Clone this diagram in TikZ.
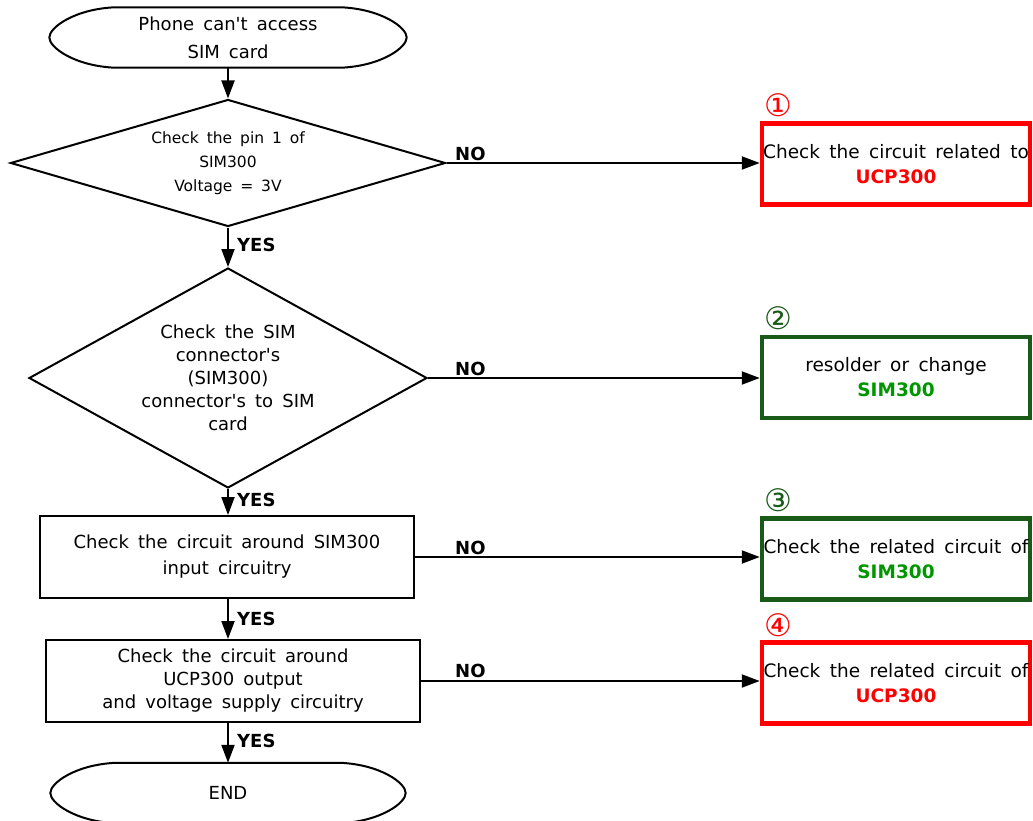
\documentclass[tikz,border=0pt]{standalone}
\usepackage{fontspec}
\newfontfamily\vf{DejaVu Sans}[WordSpace=1.6]
\usetikzlibrary{shapes.geometric,arrows.meta,calc}
\definecolor{redc}{RGB}{255,0,0}
\definecolor{gborder}{RGB}{25,90,25}
\definecolor{gtext}{RGB}{0,150,0}
\newcommand{\termoutline}[1]{%
  \draw[line width=2pt]
    ($(#1.north west)+(65,0)$) -- ($(#1.north east)+(-65,0)$)
    .. controls ($(#1.north east)+(-25,2)$) and ($(#1.east)+(0,-10)$) .. (#1.east)
    .. controls ($(#1.east)+(0,10)$) and ($(#1.south east)+(-25,-2)$) .. ($(#1.south east)+(-65,0)$)
    -- ($(#1.south west)+(65,0)$)
    .. controls ($(#1.south west)+(25,-2)$) and ($(#1.west)+(0,10)$) .. (#1.west)
    .. controls ($(#1.west)+(0,-10)$) and ($(#1.north west)+(25,2)$) .. cycle;}
\begin{document}
\begin{tikzpicture}[x=1pt,y=-1pt,
  every node/.style={inner sep=0pt,execute at begin node=\vf},
  arr/.style={line width=2pt,-{Triangle[length=18pt,width=13pt]}},
  term/.style={minimum width=357pt,minimum height=60pt,align=center,font=\fontsize{18}{28}\selectfont},
  dia/.style={draw,line width=2pt,diamond,align=center},
  proc/.style={draw,line width=2pt,rectangle,align=center,minimum width=374pt,minimum height=82pt},
  res/.style={draw,line width=4.5pt,rectangle,align=center,minimum width=268pt,minimum height=81pt,font=\fontsize{18.5}{25}\selectfont},
  lbl/.style={anchor=west,font=\fontsize{18}{18}\selectfont\bfseries},
  num/.style={font=\fontsize{31}{31}\selectfont},
]
\useasboundingbox (0,0) rectangle (1033,821);
\fill[white] (0,0) rectangle (1033,821);

% left column
\node[term] (start) at (228,37.5) {Phone can't access\\SIM card};
\termoutline{start}
\node[dia,shape aspect=3.43,minimum width=435pt,minimum height=127pt,font=\fontsize{15.5}{24}\selectfont] (d1) at (228,163) {Check the pin 1 of\\SIM300\\Voltage = 3V};
\node[dia,shape aspect=1.81,minimum width=398pt,minimum height=220pt,font=\fontsize{18}{23}\selectfont] (d2) at (228,378) {Check the SIM\\connector's\\(SIM300)\\connector's to SIM\\card};
\node[proc,font=\fontsize{18}{26}\selectfont] (b1) at (227,557) {Check the circuit around SIM300\\input circuitry};
\node[proc,font=\fontsize{18}{23}\selectfont] (b2) at (233,681) {Check the circuit around\\UCP300 output\\and voltage supply circuitry};
\node[term,minimum width=355pt] (end) at (228,793) {END};
\termoutline{end}

% right column
\node[res,draw=redc] (rA) at (896,164) {Check the circuit related to\\\textcolor{redc}{\bfseries UCP300}};
\node[res,draw=gborder] (rB) at (896,377.5) {resolder or change\\\textcolor{gtext}{\bfseries SIM300}};
\node[res,draw=gborder] (rC) at (896,559) {Check the related circuit of\\\textcolor{gtext}{\bfseries SIM300}};
\node[res,draw=redc] (rD) at (896,683) {Check the related circuit of\\\textcolor{redc}{\bfseries UCP300}};

\node[num,text=redc] (n1) at (778,105) {①};
\node[num,text=gborder] (n2) at (778,318) {②};
\node[num,text=gborder] (n3) at (778,500) {③};
\node[num,text=redc] (n4) at (778,625) {④};

% vertical connectors
\draw[arr] (start.south) -- (d1.north);
\draw[arr] (d1.south) -- (d2.north);
\draw[arr] (d2.south) -- (b1.north -| d2.south);
\draw[arr] (b1.south -| end.north) -- (b2.north -| end.north);
\draw[arr] (b2.south -| end.north) -- (end.north);

% horizontal connectors
\draw[arr] (d1.east) -- (d1.east -| rA.west);
\draw[arr] (d2.east) -- (d2.east -| rB.west);
\draw[arr] (b1.east) -- (b1.east -| rC.west);
\draw[arr] (b2.east) -- (b2.east -| rD.west);

% labels
\node[lbl] (y1) at (237,245) {YES};
\node[lbl] (y2) at (237,500) {YES};
\node[lbl] (y3) at (237,619) {YES};
\node[lbl] (y4) at (237,741) {YES};
\node[lbl] (no1) at (455,154) {NO};
\node[lbl] (no2) at (455,369) {NO};
\node[lbl] (no3) at (455,548) {NO};
\node[lbl] (no4) at (455,671) {NO};
\end{tikzpicture}
\end{document}
